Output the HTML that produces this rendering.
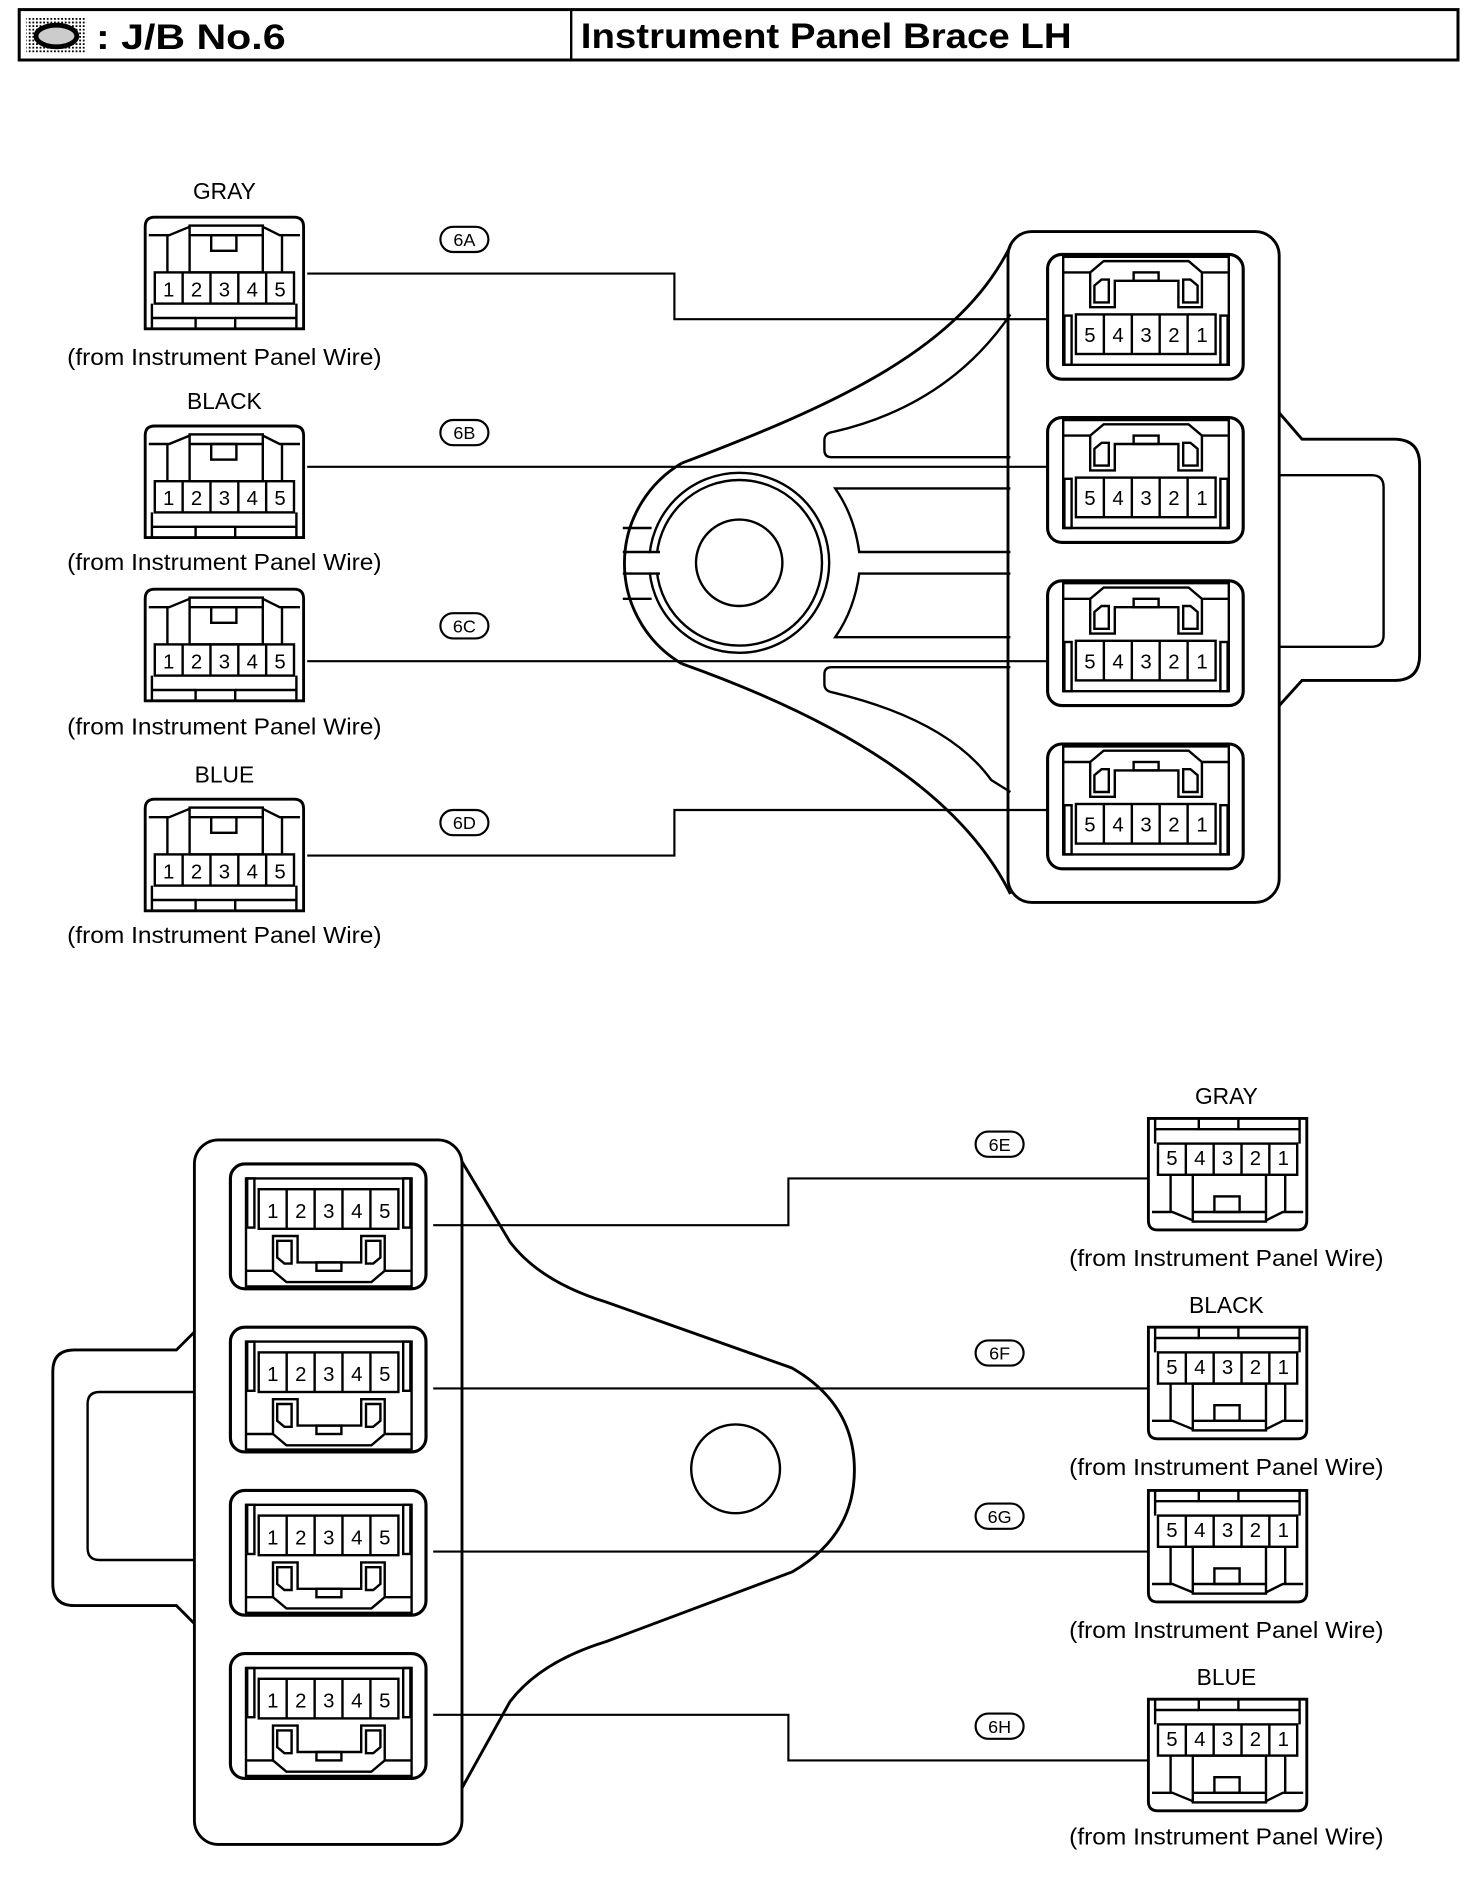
<!DOCTYPE html>
<html><head><meta charset="utf-8"><style>
html,body{margin:0;padding:0;background:#fff;}
svg{display:block;}
text{font-family:"Liberation Sans",Arial,sans-serif;fill:#000;}
.n{font-size:17px;text-anchor:middle;}
.l{font-size:19px;text-anchor:middle;}
.c{font-size:15px;text-anchor:middle;}
</style></head><body>
<svg width="1472" height="1880" viewBox="0 0 1226.67 1566.67" xmlns="http://www.w3.org/2000/svg">
<defs>
<pattern id="dots" width="3" height="3" patternUnits="userSpaceOnUse"><rect width="3" height="3" fill="#fff"/><rect width="1.5" height="1.5" fill="#000"/></pattern>
<g id="plug" fill="none" stroke="#000" stroke-width="2">
<path d="M0,93 V8 Q0,0 8,0 H124 Q132,0 132,8 V93 Z" stroke-width="2.4"/>
<path d="M3,15 H20 L37,8 M129,15 H112 L98,8"/>
<rect x="37" y="7" width="61" height="39"/>
<path d="M37,15 H98"/>
<rect x="55" y="15" width="21" height="13"/>
<path d="M18.5,15 V46 M114,15 V46"/>
<rect x="8" y="46" width="116" height="26"/>
<path d="M31.2,46 V72 M54.4,46 V72 M77.6,46 V72 M100.8,46 V72"/>
<path d="M5.6,72 V93 M126,72 V93 M6,84 H42 M75,84 H126"/>
<rect x="42" y="84" width="33" height="9"/>
</g>
<g id="jb" fill="none" stroke="#000" stroke-width="2">
<rect x="0" y="0" width="163" height="104" rx="12" stroke-width="2.6"/>
<path d="M13,2 H151 V92 H13 Z"/>
<path d="M13,15 H35.5 M128.6,15 H151"/>
<path d="M35.5,44 V15 L46.7,5.6 H117.5 L128.6,15 V44 H109 V22 H56 V44 Z"/>
<rect x="71.7" y="15" width="20.8" height="7"/>
<path d="M39,40 V26 L45,21 H51 V40 Z M125,40 V26 L119,21 H113 V40 Z"/>
<rect x="23.6" y="50" width="116.4" height="33"/>
<path d="M46.9,50 V83 M70.2,50 V83 M93.4,50 V83 M116.7,50 V83"/>
<rect x="14" y="51" width="6" height="41"/>
<rect x="144" y="51" width="6" height="41"/>
</g>
</defs>

<!-- header -->
<rect x="16" y="8" width="1199" height="42" fill="none" stroke="#000" stroke-width="2.5"/>
<line x1="476" y1="8" x2="476" y2="50" stroke="#000" stroke-width="2"/>
<rect x="22" y="14" width="50" height="31" fill="url(#dots)"/>
<ellipse cx="47" cy="30" rx="17" ry="9" fill="#ccc" stroke="#000" stroke-width="4"/>
<text x="80" y="41" font-size="29" font-weight="bold" textLength="158" lengthAdjust="spacingAndGlyphs">: J/B No.6</text>
<text x="484" y="40" font-size="29" font-weight="bold" textLength="409" lengthAdjust="spacingAndGlyphs">Instrument Panel Brace LH</text>

<!-- top housing -->
<g fill="none" stroke="#000" stroke-width="2">
<rect x="840" y="193" width="226" height="559" rx="20" stroke-width="2.4"/>
<path d="M1066,344 L1085,366 H1162 Q1183,366 1183,387 V546 Q1183,567 1162,567 H1085 L1066,588" stroke-width="2.4"/>
<path d="M1066,396 H1143 Q1153,396 1153,406 V529 Q1153,539 1143,539 H1066"/>
<path d="M568,386 C700,336 800,290 842,205" stroke-width="2.4"/>
<path d="M568,386 A97,97 0 0 0 568,553" stroke-width="2.4"/>
<path d="M568,553 C700,600 800,660 842,745" stroke-width="2.4"/>
<path d="M842,381 H693 Q687,381 687,375 V367 Q687,361 694,360 Q790,338 842,262"/>
<path d="M842,407 H696 Q712,430 716,460 H842 M842,478 H716 Q712,508 696,531 H842"/>
<path d="M842,556 H693 Q687,556 687,562 V570 Q687,576 694,577 Q790,600 826,650 L842,660"/>
<circle cx="616" cy="469" r="75"/>
<circle cx="616" cy="469" r="69"/>
<circle cx="616" cy="469" r="36"/>
</g>
<rect x="536" y="461" width="24" height="16" fill="#fff"/>
<path d="M519,440 H543 M519,460 H550 M519,478 H550 M519,499 H543" stroke="#000" stroke-width="2" fill="none"/>

<!-- top JB connectors -->
<use href="#jb" x="873" y="212"/>
<use href="#jb" x="873" y="348"/>
<use href="#jb" x="873" y="484"/>
<use href="#jb" x="873" y="620"/>
<text class="n" x="908.3 931.7 955 978.3 1001.7" y="285">54321</text>
<text class="n" x="908.3 931.7 955 978.3 1001.7" y="421">54321</text>
<text class="n" x="908.3 931.7 955 978.3 1001.7" y="557">54321</text>
<text class="n" x="908.3 931.7 955 978.3 1001.7" y="693">54321</text>

<!-- left plugs -->
<use href="#plug" x="121" y="181"/>
<use href="#plug" x="121" y="355"/>
<use href="#plug" x="121" y="491"/>
<use href="#plug" x="121" y="666"/>
<text class="n" x="140.6 163.8 187 210.2 233.4" y="247">12345</text>
<text class="n" x="140.6 163.8 187 210.2 233.4" y="421">12345</text>
<text class="n" x="140.6 163.8 187 210.2 233.4" y="557">12345</text>
<text class="n" x="140.6 163.8 187 210.2 233.4" y="732">12345</text>
<text class="l" x="187" y="166">GRAY</text>
<text class="l" x="187" y="341">BLACK</text>
<text class="l" x="187" y="652">BLUE</text>
<text class="l" x="187" y="304" textLength="262" lengthAdjust="spacingAndGlyphs">(from Instrument Panel Wire)</text>
<text class="l" x="187" y="475" textLength="262" lengthAdjust="spacingAndGlyphs">(from Instrument Panel Wire)</text>
<text class="l" x="187" y="612" textLength="262" lengthAdjust="spacingAndGlyphs">(from Instrument Panel Wire)</text>
<text class="l" x="187" y="786" textLength="262" lengthAdjust="spacingAndGlyphs">(from Instrument Panel Wire)</text>

<!-- top wires -->
<g fill="none" stroke="#000" stroke-width="1.8">
<path d="M256,228 H562 V266 H873"/>
<path d="M256,389 H873"/>
<path d="M256,551 H873"/>
<path d="M256,713 H562 V675 H873"/>
<rect x="367" y="189" width="40" height="21" rx="10.5"/>
<rect x="367" y="350" width="40" height="21" rx="10.5"/>
<rect x="367" y="511" width="40" height="21" rx="10.5"/>
<rect x="367" y="675" width="40" height="21" rx="10.5"/>
</g>
<text class="c" x="387" y="205">6A</text>
<text class="c" x="387" y="366">6B</text>
<text class="c" x="387" y="527">6C</text>
<text class="c" x="387" y="691">6D</text>

<!-- bottom housing -->
<g fill="none" stroke="#000" stroke-width="2.4">
<rect x="162" y="950" width="223" height="587" rx="20"/>
<path d="M162,1110 L147,1125 H62 Q44,1125 44,1143 V1320 Q44,1338 62,1338 H147 L162,1353"/>
<path d="M162,1160 H83 Q73,1160 73,1170 V1290 Q73,1300 83,1300 H162" stroke-width="2"/>
<path d="M385,968 L425,1035 Q450,1068 505,1085 L660,1140 Q712,1170 712,1225 Q712,1280 660,1310 L505,1368 Q450,1385 425,1418 L385,1490"/>
<circle cx="613" cy="1224" r="37" stroke-width="2"/>
</g>
<use href="#jb" transform="translate(192,1074) scale(1,-1)"/>
<use href="#jb" transform="translate(192,1210) scale(1,-1)"/>
<use href="#jb" transform="translate(192,1346) scale(1,-1)"/>
<use href="#jb" transform="translate(192,1482) scale(1,-1)"/>
<text class="n" x="227.3 250.7 274 297.3 320.7" y="1015">12345</text>
<text class="n" x="227.3 250.7 274 297.3 320.7" y="1151">12345</text>
<text class="n" x="227.3 250.7 274 297.3 320.7" y="1287">12345</text>
<text class="n" x="227.3 250.7 274 297.3 320.7" y="1423">12345</text>

<!-- bottom right plugs -->
<use href="#plug" transform="translate(957,1025) scale(1,-1)"/>
<use href="#plug" transform="translate(957,1199) scale(1,-1)"/>
<use href="#plug" transform="translate(957,1335) scale(1,-1)"/>
<use href="#plug" transform="translate(957,1509) scale(1,-1)"/>
<text class="n" x="976.6 999.8 1023 1046.2 1069.4" y="971">54321</text>
<text class="n" x="976.6 999.8 1023 1046.2 1069.4" y="1145">54321</text>
<text class="n" x="976.6 999.8 1023 1046.2 1069.4" y="1281">54321</text>
<text class="n" x="976.6 999.8 1023 1046.2 1069.4" y="1455">54321</text>
<text class="l" x="1022" y="920">GRAY</text>
<text class="l" x="1022" y="1094">BLACK</text>
<text class="l" x="1022" y="1404">BLUE</text>
<text class="l" x="1022" y="1055" textLength="262" lengthAdjust="spacingAndGlyphs">(from Instrument Panel Wire)</text>
<text class="l" x="1022" y="1229" textLength="262" lengthAdjust="spacingAndGlyphs">(from Instrument Panel Wire)</text>
<text class="l" x="1022" y="1365" textLength="262" lengthAdjust="spacingAndGlyphs">(from Instrument Panel Wire)</text>
<text class="l" x="1022" y="1537" textLength="262" lengthAdjust="spacingAndGlyphs">(from Instrument Panel Wire)</text>

<!-- bottom wires -->
<g fill="none" stroke="#000" stroke-width="1.8">
<path d="M361,1021 H657 V982 H956"/>
<path d="M361,1157 H956"/>
<path d="M361,1293 H956"/>
<path d="M361,1429 H657 V1467 H956"/>
<rect x="813" y="943" width="40" height="21" rx="10.5"/>
<rect x="813" y="1117" width="40" height="21" rx="10.5"/>
<rect x="813" y="1253" width="40" height="21" rx="10.5"/>
<rect x="813" y="1428" width="40" height="21" rx="10.5"/>
</g>
<text class="c" x="833" y="959">6E</text>
<text class="c" x="833" y="1133">6F</text>
<text class="c" x="833" y="1269">6G</text>
<text class="c" x="833" y="1444">6H</text>
</svg>
</body></html>
